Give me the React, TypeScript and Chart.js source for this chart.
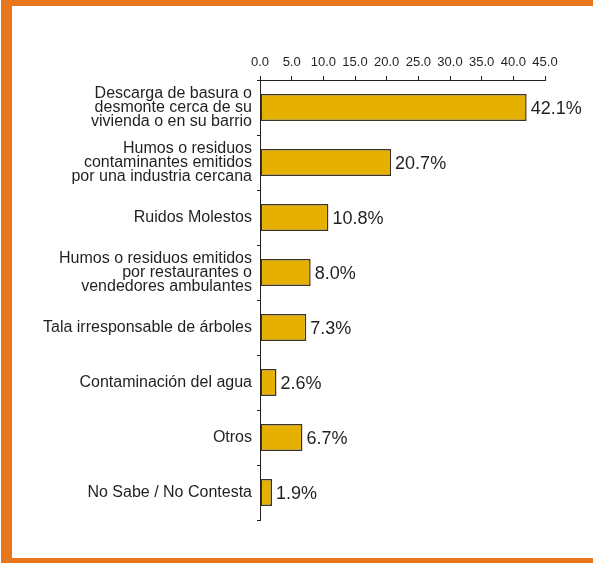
import React, { useEffect, useRef } from "react";
import { Chart, registerables } from "chart.js";

Chart.register(...registerables);

const categories: string[][] = [
  ["Descarga de basura o", "desmonte cerca de su", "vivienda o en su barrio"],
  ["Humos o residuos", "contaminantes emitidos", "por una industria cercana"],
  ["Ruidos Molestos"],
  ["Humos o residuos emitidos", "por restaurantes o", "vendedores ambulantes"],
  ["Tala irresponsable de árboles"],
  ["Contaminación del agua"],
  ["Otros"],
  ["No Sabe / No Contesta"],
];
const values: number[] = [42.1, 20.7, 10.8, 8.0, 7.3, 2.6, 6.7, 1.9];
const axisMin = 0;
const axisMax = 45;
const axisStep = 5;

const FONT = '"Liberation Sans", Arial, Helvetica, sans-serif';
const TEXT = "#231f20";
const BAR = "#E6B000";
const BAR_BORDER = "#3a3326";
const FRAME = "#E8761B";

const valueLabels = {
  id: "valueLabels",
  afterDatasetsDraw(chart: any) {
    const ctx = chart.ctx;
    const meta = chart.getDatasetMeta(0);
    ctx.save();
    ctx.font = `18px ${FONT}`;
    ctx.fillStyle = TEXT;
    ctx.textBaseline = "middle";
    ctx.textAlign = "left";
    meta.data.forEach((bar: any, i: number) => {
      ctx.fillText(values[i].toFixed(1) + "%", bar.x + 4, bar.y + 2);
    });
    ctx.restore();
  },
};

export default function App() {
  const ref = useRef<HTMLCanvasElement | null>(null);

  useEffect(() => {
    if (!ref.current) return;
    Chart.defaults.font.family = FONT;
    const chart = new Chart(ref.current, {
      type: "bar",
      data: {
        labels: categories,
        datasets: [
          {
            data: values,
            backgroundColor: BAR,
            borderColor: BAR_BORDER,
            borderWidth: 1.5,
            borderSkipped: false,
            categoryPercentage: 1,
            barPercentage: 0.49,
          } as any,
        ],
      },
      options: {
        indexAxis: "y",
        animation: false,
        responsive: false,
        maintainAspectRatio: false,
        layout: { padding: { top: 0, left: 0, right: 48, bottom: 43 } },
        plugins: {
          legend: { display: false },
          tooltip: { enabled: false },
          title: { display: false },
        },
        scales: {
          x: {
            position: "top",
            min: axisMin,
            max: axisMax,
            ticks: {
              stepSize: axisStep,
              callback: (v: any) => Number(v).toFixed(1),
              font: { size: 13 },
              color: TEXT,
              padding: 6,
              maxRotation: 0,
              autoSkip: false,
            },
            grid: {
              drawOnChartArea: false,
              drawTicks: true,
              tickLength: 4,
              color: TEXT,
            },
            border: { display: true, color: TEXT, width: 1 },
            afterFit: (scale: any) => {
              scale.height = 80;
            },
          },
          y: {
            type: "category",
            ticks: {
              font: { size: 16, lineHeight: 0.9 },
              color: TEXT,
              padding: 5,
              autoSkip: false,
            },
            grid: {
              drawOnChartArea: false,
              drawTicks: true,
              tickLength: 3,
              color: TEXT,
              offset: true,
            },
            border: { display: true, color: TEXT, width: 1 },
            afterFit: (scale: any) => {
              scale.width = 260;
            },
          },
        },
      } as any,
      plugins: [valueLabels],
    });
    return () => chart.destroy();
  }, []);

  return (
    <div
      style={{
        position: "absolute",
        left: 0,
        top: 0,
        width: 593,
        height: 563,
        background: "#ffffff",
        overflow: "hidden",
      }}
    >
      <canvas
        ref={ref}
        width={593}
        height={563}
        style={{ position: "absolute", left: 0, top: 0, display: "block" }}
      />
      <div
        style={{
          position: "absolute",
          left: 1,
          top: 0,
          width: 592,
          height: 563,
          boxSizing: "border-box",
          borderTop: `6px solid ${FRAME}`,
          borderLeft: `11px solid ${FRAME}`,
          borderBottom: `5px solid ${FRAME}`,
          pointerEvents: "none",
        }}
      />
    </div>
  );
}
